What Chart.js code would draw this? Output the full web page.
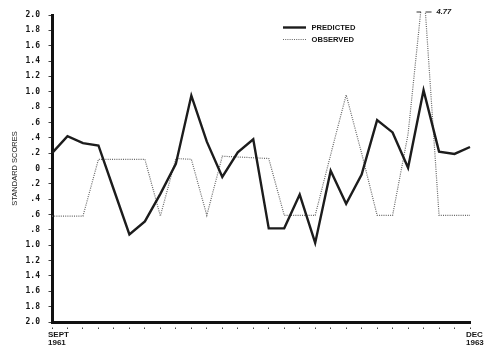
<!DOCTYPE html>
<html>
<head>
<meta charset="utf-8">
<script src="https://cdn.jsdelivr.net/npm/chart.js@4/dist/chart.umd.min.js"></script>
<style>
  html, body { margin: 0; padding: 0; background: #ffffff; }
  canvas { display: block; }
</style>
</head>
<body>
<canvas id="chart" width="488" height="349"></canvas>
<script>
// Monthly periods, September 1961 through December 1963
const months = [
  'SEPT 1961', 'OCT 1961', 'NOV 1961', 'DEC 1961',
  'JAN 1962', 'FEB 1962', 'MAR 1962', 'APR 1962', 'MAY 1962', 'JUNE 1962',
  'JULY 1962', 'AUG 1962', 'SEPT 1962', 'OCT 1962', 'NOV 1962', 'DEC 1962',
  'JAN 1963', 'FEB 1963', 'MAR 1963', 'APR 1963', 'MAY 1963', 'JUNE 1963',
  'JULY 1963', 'AUG 1963', 'SEPT 1963', 'OCT 1963', 'NOV 1963', 'DEC 1963'
];

// Standard scores for each month
const predicted = [
  0.20, 0.42, 0.33, 0.30, -0.28, -0.86, -0.69, -0.33, 0.06, 0.95,
  0.35, -0.11, 0.21, 0.38, -0.78, -0.78, -0.34, -0.97, -0.03, -0.46,
  -0.08, 0.63, 0.47, 0.01, 1.02, 0.22, 0.19, 0.28
];
const observed = [
  -0.62, -0.62, -0.62, 0.12, 0.12, 0.12, 0.12, -0.62, 0.13, 0.12,
  -0.61, 0.16, 0.15, 0.14, 0.13, -0.61, -0.61, -0.61, 0.18, 0.96,
  0.20, -0.61, -0.61, 0.45, 4.77, -0.61, -0.61, -0.61
];

const seriesNames = ['PREDICTED', 'OBSERVED'];
const axisTitle = 'STANDARD SCORES';

// Value axis labels, top to bottom (magnitudes only, as printed)
const yTickLabels = [
  '2.0', '1.8', '1.6', '1.4', '1.2', '1.0', '.8', '.6', '.4', '.2', '0',
  '.2', '.4', '.6', '.8', '1.0', '1.2', '1.4', '1.6', '1.8', '2.0'
];

// Linear scale with a break above its maximum: off-scale values are
// placed a short, compressed distance above the plot.
const BREAK_PX_PER_UNIT = 11;
class BrokenLinearScale extends Chart.LinearScale {
  static id = 'brokenLinear';
  getPixelForValue(value) {
    if (value > this.max) {
      return super.getPixelForValue(this.max) - (value - this.max) * BREAK_PX_PER_UNIT;
    }
    return super.getPixelForValue(value);
  }
}
Chart.register(BrokenLinearScale);

const tickFont = { family: 'DejaVu Sans Mono', size: 8, weight: 'bold' };

// Legend entries and the axis-break marker with the off-scale value
const overlay = {
  id: 'overlay',
  afterDatasetsDraw(chart) {
    const { ctx, chartArea, scales: { x, y } } = chart;
    ctx.save();
    const legendLeft = 283, lineLen = 23, textLeft = 311.5, rows = [27.5, 39.5];
    chart.data.datasets.forEach((ds, i) => {
      ctx.beginPath();
      ctx.lineWidth = ds.borderWidth;
      ctx.strokeStyle = ds.borderColor;
      ctx.setLineDash(ds.borderDash || []);
      ctx.moveTo(legendLeft, rows[i]);
      ctx.lineTo(legendLeft + lineLen, rows[i]);
      ctx.stroke();
      ctx.setLineDash([]);
      ctx.fillStyle = '#161616';
      ctx.font = 'bold 7.6px "Liberation Sans"';
      ctx.textBaseline = 'middle';
      ctx.textAlign = 'left';
      ctx.fillText(ds.label, textLeft, rows[i] + 0.5);
    });

    const idx = observed.findIndex(v => v > y.max);
    if (idx >= 0) {
      const px = x.getPixelForValue(idx);
      const py = chartArea.top - 3;
      ctx.lineWidth = 1;
      ctx.strokeStyle = '#333';
      ctx.beginPath();
      ctx.moveTo(px - 7, py); ctx.lineTo(px - 2.5, py);
      ctx.moveTo(px + 2, py); ctx.lineTo(px + 8, py);
      ctx.stroke();
      ctx.fillStyle = '#161616';
      ctx.font = 'italic bold 7.5px "Liberation Sans"';
      ctx.textBaseline = 'middle';
      ctx.textAlign = 'left';
      ctx.fillText(observed[idx].toFixed(2), px + 13, py);
    }
    ctx.restore();
  }
};

new Chart(document.getElementById('chart'), {
  type: 'line',
  data: {
    labels: months,
    datasets: [
      {
        label: seriesNames[0],
        data: predicted,
        borderColor: '#1c1c1c',
        borderWidth: 2.4,
        pointRadius: 0,
        tension: 0,
        fill: false
      },
      {
        label: seriesNames[1],
        data: observed,
        borderColor: '#666666',
        borderWidth: 1.2,
        borderDash: [1, 1.2],
        pointRadius: 0,
        tension: 0,
        fill: false,
        clip: { left: 2, top: 3, right: 2, bottom: 0 }
      }
    ]
  },
  options: {
    responsive: false,
    animation: false,
    devicePixelRatio: 1,
    layout: { padding: { top: 15, right: 18, left: 0, bottom: 0 } },
    plugins: {
      legend: { display: false },
      tooltip: { enabled: false }
    },
    scales: {
      x: {
        type: 'category',
        offset: false,
        ticks: {
          autoSkip: false,
          maxRotation: 0,
          minRotation: 0,
          align: 'start',
          labelOffset: -4,
          padding: 2,
          color: '#161616',
          font: { family: 'Liberation Sans', size: 8, weight: 'bold', lineHeight: 1.0 },
          callback(value, index) {
            return (index === 0 || index === months.length - 1)
              ? this.getLabelForValue(value).split(' ')
              : '';
          }
        },
        grid: {
          drawOnChartArea: false,
          tickLength: 7,
          tickColor: '#444',
          tickWidth: 1,
          tickBorderDash: [2.5, 3.5],
          tickBorderDashOffset: 2.5
        },
        border: { display: true, width: 3, color: '#111' },
        afterFit(scale) {
          scale.height = 27;
          scale.paddingLeft = 0;
          scale.paddingRight = 0;
        }
      },
      y: {
        type: 'brokenLinear',
        min: -2,
        max: 2,
        ticks: {
          stepSize: 0.2,
          autoSkip: false,
          padding: 5,
          color: '#161616',
          font: tickFont,
          callback: (value, index) => yTickLabels[yTickLabels.length - 1 - index]
        },
        grid: {
          drawOnChartArea: false,
          tickLength: 7,
          tickColor: '#444',
          tickWidth: 1,
          tickBorderDash: [2.5, 3.5],
          tickBorderDashOffset: 2.5
        },
        border: { display: true, width: 3, color: '#111' },
        title: {
          display: true,
          text: axisTitle,
          color: '#222',
          font: { family: 'Liberation Sans', size: 7.5 },
          padding: { top: 10, bottom: 0 }
        },
        afterFit(scale) {
          scale.width = 52;
          scale.paddingTop = 0;
          scale.paddingBottom = 0;
        }
      }
    }
  },
  plugins: [overlay]
});
</script>
</body>
</html>
